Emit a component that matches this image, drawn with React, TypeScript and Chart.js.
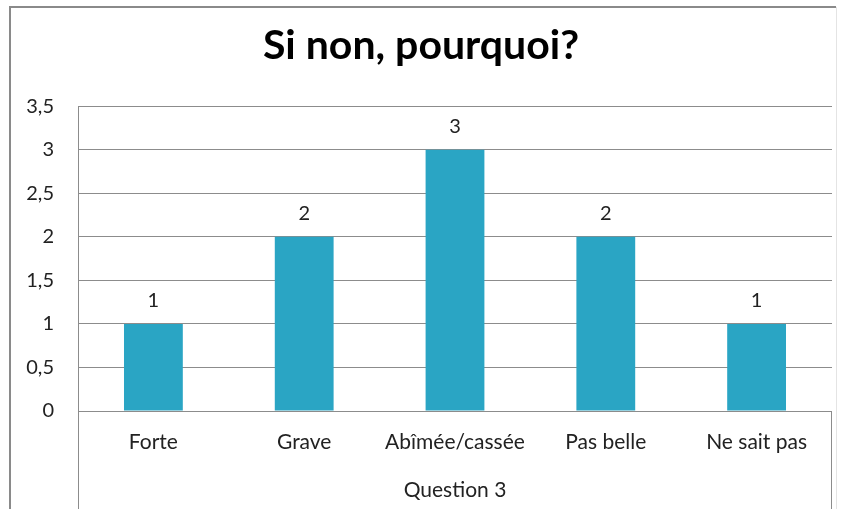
import React, { useEffect, useRef } from "react";
import { Chart, registerables } from "chart.js";

Chart.register(...registerables);

const chartTitle = "Si non, pourquoi?";
const categories = ["Forte", "Grave", "Abîmée/cassée", "Pas belle", "Ne sait pas"];
const values = [1, 2, 3, 2, 1];
const groupLabel = "Question 3";
const yMin = 0;
const yMax = 3.5;
const yStep = 0.5;

const FONT = "Lato, 'Open Sans', sans-serif";
const BAR_COLOR = "#2aa5c4";
const GRID_COLOR = "#8c8c8c";

const decorPlugin = {
  id: "decor",
  beforeDraw(chart: any) {
    const ctx = chart.ctx;
    ctx.save();
    ctx.fillStyle = "#ffffff";
    ctx.fillRect(0, 0, chart.width, chart.height);
    // outer frame
    ctx.strokeStyle = "#8a8a8a";
    ctx.lineWidth = 2;
    ctx.beginPath();
    ctx.moveTo(10, chart.height + 5);
    ctx.lineTo(10, 7);
    ctx.lineTo(836, 7);
    ctx.stroke();
    ctx.strokeStyle = "#e4e4e4";
    ctx.lineWidth = 1;
    ctx.beginPath();
    ctx.moveTo(836.5, 7);
    ctx.lineTo(836.5, chart.height + 5);
    ctx.stroke();
    ctx.restore();
  },
  afterDraw(chart: any) {
    const ctx = chart.ctx;
    const area = chart.chartArea;
    ctx.save();
    // axis group separators
    ctx.strokeStyle = GRID_COLOR;
    ctx.lineWidth = 1;
    ctx.beginPath();
    ctx.moveTo(Math.round(area.left) + 0.5, area.top);
    ctx.lineTo(Math.round(area.left) + 0.5, chart.height);
    ctx.moveTo(Math.round(area.right) - 0.5, area.bottom);
    ctx.lineTo(Math.round(area.right) - 0.5, chart.height);
    ctx.stroke();
    // group label
    ctx.fillStyle = "#222";
    ctx.font = `21px ${FONT}`;
    ctx.textAlign = "center";
    ctx.textBaseline = "middle";
    ctx.fillText(groupLabel, (area.left + area.right) / 2, 490);
    // data labels
    ctx.font = `20px ${FONT}`;
    const meta = chart.getDatasetMeta(0);
    meta.data.forEach((bar: any, i: number) => {
      ctx.fillText(String(values[i]), bar.x, bar.y - 23);
    });
    ctx.restore();
  },
};

export default function App() {
  const ref = useRef<HTMLCanvasElement | null>(null);
  useEffect(() => {
    if (!ref.current) return;
    const chart = new Chart(ref.current, {
      type: "bar",
      data: {
        labels: categories,
        datasets: [
          {
            data: values,
            backgroundColor: BAR_COLOR,
            borderWidth: 0,
            categoryPercentage: 1,
            barPercentage: 0.39,
          },
        ],
      },
      options: {
        animation: false,
        responsive: false,
        maintainAspectRatio: false,
        layout: { padding: { left: 10, right: 11, top: 0, bottom: 0 } },
        plugins: {
          legend: { display: false },
          tooltip: { enabled: false },
          title: {
            display: true,
            text: chartTitle,
            color: "#000",
            font: { family: FONT, size: 41, weight: "bold" },
            padding: { top: 21, bottom: 36 },
          },
        },
        scales: {
          x: {
            grid: { display: false, drawTicks: false },
            border: { display: false },
            ticks: {
              color: "#222",
              font: { family: FONT, size: 21 },
              padding: 19,
              maxRotation: 0,
              autoSkip: false,
            },
            afterFit(scale: any) {
              scale.height = 98;
            },
          },
          y: {
            min: yMin,
            max: yMax,
            grid: { color: GRID_COLOR, drawTicks: false },
            border: { display: false },
            ticks: {
              stepSize: yStep,
              color: "#222",
              font: { family: FONT, size: 20 },
              padding: 24,
              callback: (v: any) => String(v).replace(".", ","),
            },
            afterFit(scale: any) {
              scale.width = 68;
            },
          },
        },
      },
      plugins: [decorPlugin],
    });
    return () => chart.destroy();
  }, []);
  return (
    <div style={{ position: "fixed", left: 0, top: 0, width: 843, height: 509 }}>
      <canvas ref={ref} width={843} height={509} />
    </div>
  );
}
